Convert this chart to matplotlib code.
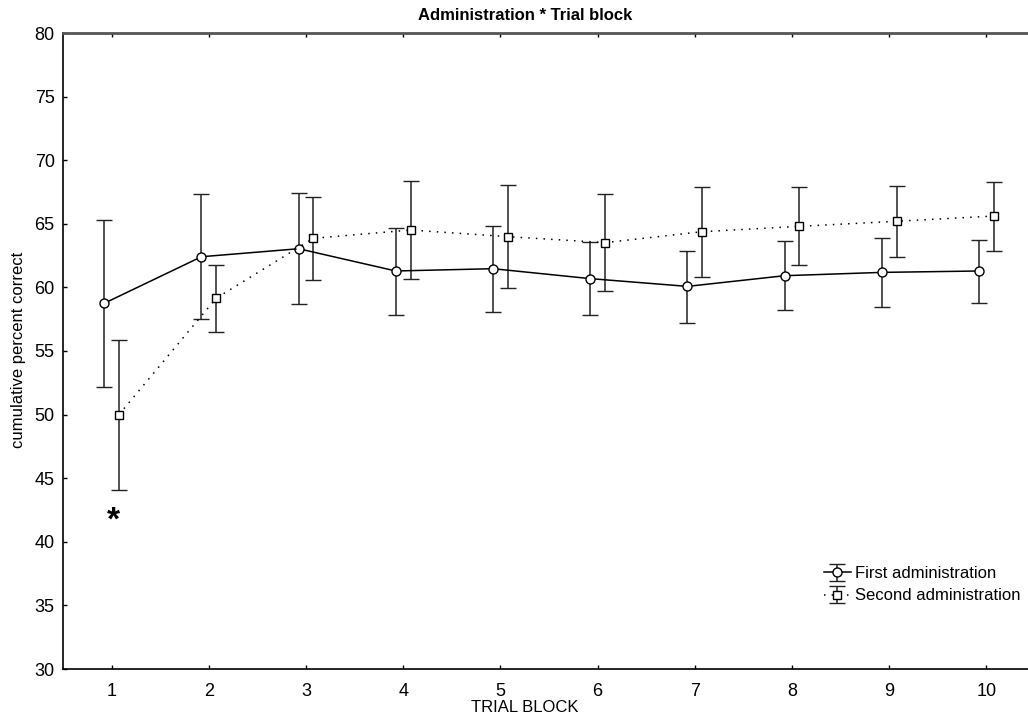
import matplotlib
matplotlib.use("Agg")
import matplotlib.pyplot as plt
import numpy as np

plt.rcParams['font.family'] = ['Liberation Sans', 'DejaVu Sans']

blocks = [1, 2, 3, 4, 5, 6, 7, 8, 9, 10]
first_mean = [58.75, 62.41, 63.04, 61.29, 61.47, 60.69, 60.08, 60.92, 61.18, 61.29]
first_upper = [65.3, 67.32, 67.45, 64.69, 64.85, 63.55, 62.86, 63.65, 63.88, 63.73]
first_lower = [52.2, 57.52, 58.70, 57.83, 58.07, 57.86, 57.23, 58.22, 58.46, 58.77]
second_mean = [50.0, 59.15, 63.86, 64.51, 63.99, 63.52, 64.38, 64.80, 65.20, 65.61]
second_upper = [55.9, 61.76, 67.13, 68.39, 68.05, 67.34, 67.92, 67.87, 68.00, 68.31]
second_lower = [44.1, 56.49, 60.61, 60.68, 59.95, 59.69, 60.84, 61.74, 62.39, 62.89]
yticks = [30, 35, 40, 45, 50, 55, 60, 65, 70, 75, 80]

W, H = 1028, 719
fig = plt.figure(figsize=(W/100, H/100), dpi=100)
ax = fig.add_axes([63/W, 1-669/H, (1035-63)/W, (669-33)/H])

x = np.array(blocks, dtype=float)
off = 0.076
fm = np.array(first_mean); sm = np.array(second_mean)
ferr = [fm - np.array(first_lower), np.array(first_upper) - fm]
serr = [sm - np.array(second_lower), np.array(second_upper) - sm]

ax.errorbar(x - off, fm, yerr=ferr, color='black', lw=1.1, ls='-',
            marker='o', ms=6.5, mfc='white', mec='black', mew=1.0,
            capsize=5.5, capthick=1.1, elinewidth=1.1, ecolor='#222222',
            label='First administration', zorder=3)
ax.errorbar(x + off, sm, yerr=serr, color='black', lw=1.1, ls=(0, (1, 4)),
            marker='s', ms=6, mfc='white', mec='black', mew=1.0,
            capsize=5.5, capthick=1.1, elinewidth=1.1, ecolor='#222222',
            label='Second administration', zorder=3)

ax.text(1.02, 41.6, '*', fontsize=24, fontweight='bold', ha='center', va='center')

ax.set_xlim(0.5, 10.5)
ax.set_ylim(30, 80)
ax.set_xticks(blocks)
ax.set_xticklabels([str(b) for b in blocks])
ax.set_yticks(yticks)
ax.tick_params(axis='both', labelsize=13, direction='in', length=3, width=1,
               top=True, right=False)
ax.tick_params(axis='x', pad=10)
ax.tick_params(axis='y', pad=6)
for s in ['left', 'bottom']:
    ax.spines[s].set_linewidth(1.2)
ax.spines['top'].set_linewidth(2.0)
ax.spines['top'].set_color('#555555')
ax.spines['right'].set_visible(False)

fig.text(525/W, 1-15/H, 'Administration * Trial block', fontsize=12,
         fontweight='bold', ha='center', va='center')
fig.text(525/W, 1-708/H, 'TRIAL BLOCK', fontsize=12, ha='center', va='center')
fig.text(19/W, 1-350/H, 'cumulative percent correct', fontsize=12,
         rotation=90, ha='center', va='center')

leg = ax.legend(loc='upper left', bbox_to_anchor=(824/W, 1-566/H),
                bbox_transform=fig.transFigure, frameon=False, fontsize=12,
                handlelength=1.6, handletextpad=0.25, labelspacing=0.45,
                borderpad=0, borderaxespad=0)

fig.savefig('out.png', dpi=100)
